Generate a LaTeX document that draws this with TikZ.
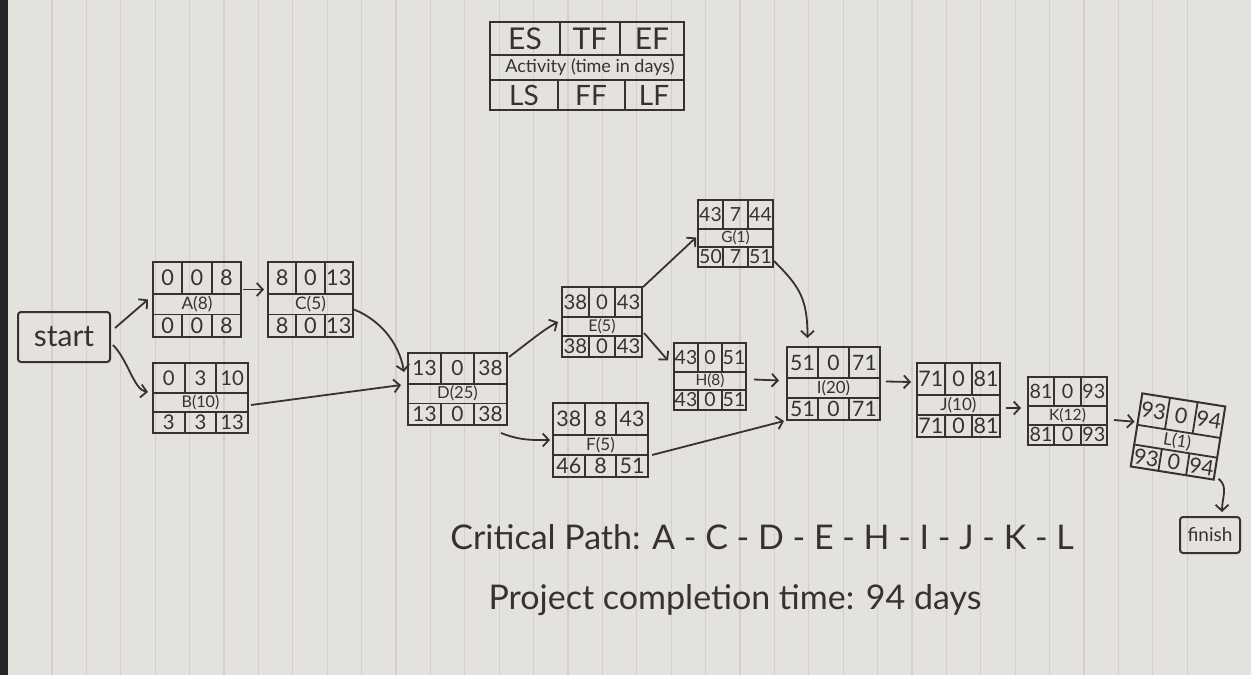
\documentclass[tikz,border=0pt]{standalone}
\usepackage{fontspec}
\setmainfont{Lato}
\usetikzlibrary{arrows.meta,calc}
\definecolor{paper}{HTML}{E4E2DD}
\definecolor{rulec}{HTML}{D3D0CA}
\definecolor{ink}{HTML}{35322F}
\tikzset{
  abox/.style={draw=ink, line width=2pt, inner sep=0pt, rectangle},
  cell/.style={text=ink, inner sep=0pt},
  arr/.style={draw=ink, line width=1.8pt, -{Straight Barb[length=6pt,width=13pt]}},
  gridl/.style={draw=ink, line width=1.8pt},
  endbox/.style={draw=ink, line width=2pt, rounded corners=3pt, text=ink, inner sep=0pt},
}
% #1 name, #2 cx, #3 cy, #4 w, #5 h, #6 ES, #7 TF, #8 EF, #9 activity
\newcommand\actbox[9]{%
  \pgfmathsetmacro\fs{0.29*#5}%
  \pgfmathsetmacro\fl{0.23*#5}%
  \pgfmathsetmacro\xa{#2-#4/2}\pgfmathsetmacro\xb{#2-#4/6}%
  \pgfmathsetmacro\xc{#2+#4/6}\pgfmathsetmacro\xd{#2+#4/2}%
  \pgfmathsetmacro\ya{#3-#5/2}\pgfmathsetmacro\yb{#3-#5/2+0.43*#5}%
  \pgfmathsetmacro\yc{#3-#5/2+0.70*#5}\pgfmathsetmacro\yd{#3+#5/2}%
  \pgfmathsetmacro\ytop{#3-#5/2+0.215*#5}\pgfmathsetmacro\ymid{#3-#5/2+0.565*#5}%
  \pgfmathsetmacro\ylow{#3-#5/2+0.85*#5}%
  \pgfmathsetmacro\xl{#2-#4/3}\pgfmathsetmacro\xr{#2+#4/3}%
  \def\curbox{#1}\def\curx{#2}%
  \node[abox, minimum width=#4pt, minimum height=#5pt] (#1) at (#2,#3) {};
  \draw[gridl] (\xa,\yb) -- (\xd,\yb) (\xa,\yc) -- (\xd,\yc)
    (\xb,\ya) -- (\xb,\yb) (\xc,\ya) -- (\xc,\yb)
    (\xb,\yc) -- (\xb,\yd) (\xc,\yc) -- (\xc,\yd);
  \node[cell, font=\fontsize{\fs}{\fs}\selectfont] (#1-es) at (\xl,\ytop) {#6};
  \node[cell, font=\fontsize{\fs}{\fs}\selectfont] (#1-tf) at (#2,\ytop) {#7};
  \node[cell, font=\fontsize{\fs}{\fs}\selectfont] (#1-ef) at (\xr,\ytop) {#8};
  \node[cell, font=\fontsize{\fl}{\fl}\selectfont] (#1-act) at (#2,\ymid) {#9};
}
\newcommand\actlow[3]{%
  \node[cell, font=\fontsize{\fs}{\fs}\selectfont] (\curbox-ls) at (\xl,\ylow) {#1};
  \node[cell, font=\fontsize{\fs}{\fs}\selectfont] (\curbox-ff) at (\curx,\ylow) {#2};
  \node[cell, font=\fontsize{\fs}{\fs}\selectfont] (\curbox-lf) at (\xr,\ylow) {#3};
}
\begin{document}
\begin{tikzpicture}[x=1pt,y=-1pt]
\useasboundingbox (0,0) rectangle (1251,675);
\fill[paper] (0,0) rectangle (1251,675);
\foreach \k in {0,...,33} \draw[rulec, line width=1.2pt] ({52+34.4*\k},0) -- ({52+34.4*\k},675);
\fill[black!85] (0,0) rectangle (8,675);

% legend
\node[abox, minimum width=194pt, minimum height=88pt] (legend) at (587,66) {};
\draw[gridl] (490,55) -- (684,55) (490,80) -- (684,80)
  (560,22) -- (560,55) (620,22) -- (620,55)
  (558,80) -- (558,110) (625,80) -- (625,110);
\node[cell, font=\fontsize{30}{30}\selectfont] (lg-es) at (525,39) {ES};
\node[cell, font=\fontsize{30}{30}\selectfont] (lg-tf) at (590,39) {TF};
\node[cell, font=\fontsize{30}{30}\selectfont] (lg-ef) at (652,39) {EF};
\node[cell, font=\fontsize{18}{18}\selectfont] (lg-act) at (590,67.5) {Activity (time in days)};
\node[cell, font=\fontsize{28}{28}\selectfont] (lg-ls) at (524,95) {LS};
\node[cell, font=\fontsize{28}{28}\selectfont] (lg-ff) at (591,95) {FF};
\node[cell, font=\fontsize{28}{28}\selectfont] (lg-lf) at (654,95) {LF};

% start / finish
\node[endbox, minimum width=92pt, minimum height=50pt, font=\fontsize{30}{30}\selectfont] (start) at (64,337) {start};
\node[endbox, minimum width=60pt, minimum height=36pt, font=\fontsize{19}{19}\selectfont] (finish) at (1210,535) {finish};

% activities
\actbox{A}{197}{299.5}{88}{75}{0}{0}{8}{A(8)}\actlow{0}{0}{8}
\actbox{C}{310.5}{299.5}{85}{75}{8}{0}{13}{C(5)}\actlow{8}{0}{13}
\actbox{B}{200.5}{398}{95}{70}{0}{3}{10}{B(10)}\actlow{3}{3}{13}
\actbox{D}{457.5}{389}{99}{72}{13}{0}{38}{D(25)}\actlow{13}{0}{38}
\actbox{E}{602}{322}{80}{70}{38}{0}{43}{E(5)}\actlow{38}{0}{43}
\actbox{F}{600.5}{440}{95}{74}{38}{8}{43}{F(5)}\actlow{46}{8}{51}
\actbox{G}{735.5}{233.5}{75}{67}{43}{7}{44}{G(1)}\actlow{50}{7}{51}
\actbox{H}{710}{376.5}{72}{67}{43}{0}{51}{H(8)}\actlow{43}{0}{51}
\actbox{I}{833.5}{383.5}{93}{73}{51}{0}{71}{I(20)}\actlow{51}{0}{71}
\actbox{J}{958.5}{400}{83}{74}{71}{0}{81}{J(10)}\actlow{71}{0}{81}
\actbox{K}{1067.5}{411}{79}{68}{81}{0}{93}{K(12)}\actlow{81}{0}{93}
\begin{scope}[rotate around={-9:(1178,436.5)}, transform shape]
\actbox{L}{1178}{436.5}{84}{74}{93}{0}{94}{L(1)}\actlow{93}{0}{94}
\end{scope}

% connectors
\draw[arr] ([shift={(4,-9)}]start.east) -- ([shift={(-4,0)}]A.west);
\draw[arr] ([shift={(2,8)}]start.east) .. controls +(15,15) and +(-14,-2) .. ([shift={(-4,-6)}]B.west);
\draw[arr] ([shift={(1,-10)}]A.east) -- ([shift={(-3,-10)}]C.west);
\draw[arr] ([shift={(0,10)}]C.east) .. controls +(25,10) and +(-5,-30) .. ([shift={(-3,-17)}]D.west);
\draw[arr] ([shift={(2,7)}]B.east) -- ([shift={(-6,-4)}]D.west);
\draw[arr] ([shift={(1,5)}]D.north east) .. controls +(20,-15) and +(-15,8) .. ([shift={(-3,0)}]E.west);
\draw[arr] ([shift={(-7,7)}]D.south east) .. controls +(20,8) and +(-15,0) .. ([shift={(-2,0)}]F.west);
\draw[arr] ([shift={(0,1)}]E.north east) -- ([shift={(-1,4)}]G.west);
\draw[arr] ([shift={(1,11)}]E.east) -- ([shift={(-5,-16)}]H.west);
\draw[arr] ([shift={(0,-7)}]G.south east) .. controls +(25,25) and +(0,-40) .. ([shift={(-26,-8)}]I.north);
\draw[arr] ([shift={(7,3)}]H.east) -- ([shift={(-7,-3)}]I.west);
\draw[arr] ([shift={(3,15)}]F.east) -- ([shift={(-2,0)}]I.south west);
\draw[arr] ([shift={(5,-2)}]I.east) -- ([shift={(-5,-18)}]J.west);
\draw[arr] ([shift={(5,8)}]J.east) -- ([shift={(-6,-3)}]K.west);
\draw[arr] ([shift={(6,9)}]K.east) -- ([shift={(-1,-8)}]L.west);
\draw[arr] ([shift={(4,-2)}]L.south east) .. controls +(10,8) and +(0,-15) .. ([shift={(12,-4)}]finish.north);

% texts
\node[cell, font=\fontsize{34}{34}\selectfont] (crit) at (762,537) {Critical Path: A - C - D - E - H - I - J - K - L};
\node[cell, font=\fontsize{34}{34}\selectfont] (proj) at (735,600) {Project completion time: 94 days};
\end{tikzpicture}
\end{document}
